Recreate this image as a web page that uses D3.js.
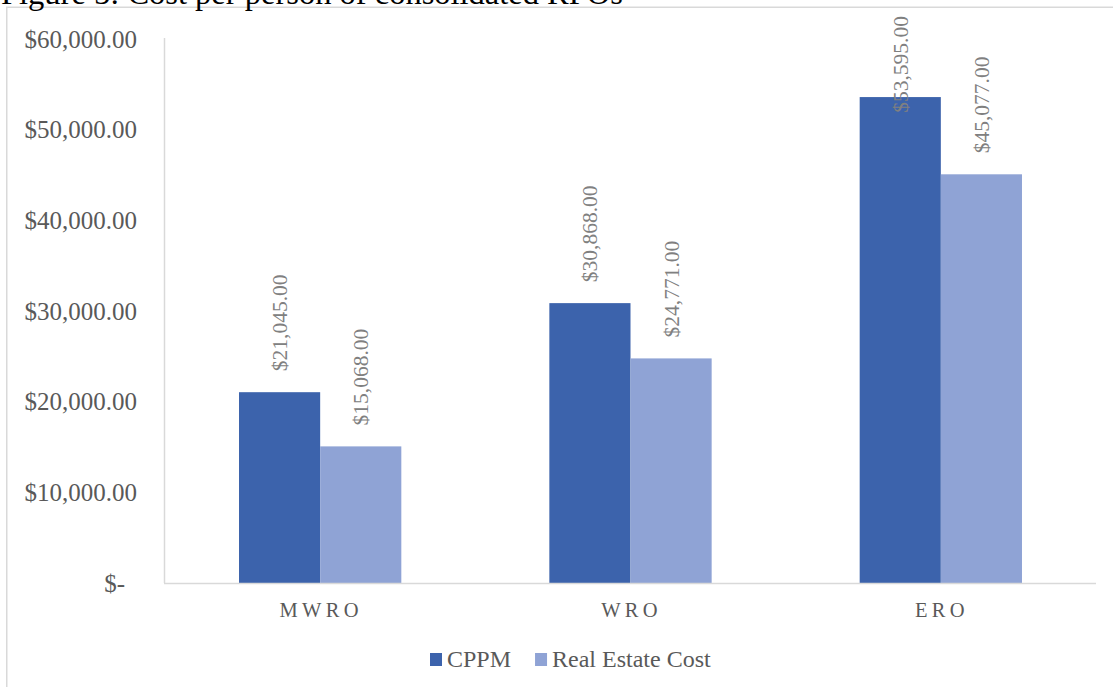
<!DOCTYPE html>
<html>
<head>
<meta charset="utf-8">
<script src="https://cdn.jsdelivr.net/npm/d3@7"></script>
<style>
  html, body { margin: 0; padding: 0; background: #fff; }
  svg { display: block; font-family: "Liberation Serif", "Times New Roman", Times, serif; }
</style>
</head>
<body>
<svg id="chart" width="1113" height="687"></svg>
<script>
// Cost per person, by regional office
const categories = ["MWRO", "WRO", "ERO"];
const seriesNames = ["CPPM", "Real Estate Cost"];
const cppm = [21045, 30868, 53595];
const realEstate = [15068, 24771, 45077];
const yTicks = [0, 10000, 20000, 30000, 40000, 50000, 60000];
const titleText = "Figure 5: Cost per person of consolidated RPOs";

const colors = ["#3c63ac", "#8fa3d5"];
const series = [cppm, realEstate];

const svg = d3.select("#chart");
const W = 1113, H = 687;
const plot = { left: 165, right: 1096, top: 39, bottom: 583 };

// chart frame
svg.append("path")
  .attr("d", `M6.75,${H} V7.25 H${W}`)
  .attr("fill", "none")
  .attr("stroke", "#d9d9d9")
  .attr("stroke-width", 1.5);

// title (runs above the frame)
const title = svg.append("text")
  .attr("x", 1)
  .attr("y", 4)
  .attr("font-size", 26)
  .attr("fill", "#000")
  .text(titleText);
const tl = title.node().getComputedTextLength();
title.attr("font-size", 26 * 622 / tl);

const y = d3.scaleLinear().domain([0, 60000]).range([plot.bottom, plot.top]);
const x0 = d3.scaleBand().domain(categories)
  .range([plot.left, plot.right])
  .paddingInner(0.477).paddingOuter(0.2385);
const x1 = d3.scaleBand().domain(seriesNames).range([0, x0.bandwidth()]);

// y axis labels
const fmt = v => v === 0 ? "$-" : "$" + d3.format(",.2f")(v);
const yAxis = svg.append("g")
  .attr("transform", `translate(${plot.left},0)`)
  .call(d3.axisLeft(y).tickValues(yTicks).tickFormat(fmt).tickSize(0).tickPadding(28));
yAxis.select(".domain").remove();
yAxis.selectAll("text")
  .attr("font-family", "'Liberation Serif', 'Times New Roman', serif")
  .attr("font-size", 25)
  .attr("fill", "#595959")
  .attr("dx", d => d === 0 ? -12 : 0);

// bars
const groups = svg.append("g").selectAll("g")
  .data(categories)
  .join("g")
  .attr("transform", d => `translate(${x0(d)},0)`);

groups.selectAll("rect")
  .data((c, i) => seriesNames.map((s, j) => ({ s, v: series[j][i], j })))
  .join("rect")
  .attr("x", d => x1(d.s))
  .attr("width", x1.bandwidth())
  .attr("y", d => y(d.v))
  .attr("height", d => y(0) - y(d.v))
  .attr("fill", d => colors[d.j]);

// value labels, rotated, kept inside the chart area
const labelTop = 16;
groups.selectAll("text.val")
  .data((c, i) => seriesNames.map((s, j) => ({ s, v: series[j][i], j })))
  .join("text")
  .attr("class", "val")
  .attr("font-size", 21.5)
  .attr("fill", "#808080")
  .attr("dy", "0.35em")
  .text(d => "$" + d3.format(",.2f")(d.v))
  .each(function (d) {
    const len = this.getComputedTextLength();
    const bottom = Math.max(y(d.v) - 21, labelTop + len);
    const cx = x1(d.s) + x1.bandwidth() / 2;
    d3.select(this).attr("transform", `translate(${cx},${bottom}) rotate(-90)`);
  });

// axis lines
svg.append("line")
  .attr("x1", plot.left - 0.5).attr("x2", plot.left - 0.5)
  .attr("y1", plot.top - 1).attr("y2", plot.bottom)
  .attr("stroke", "#d9d9d9").attr("stroke-width", 1.5);
svg.append("line")
  .attr("x1", plot.left - 1).attr("x2", plot.right)
  .attr("y1", plot.bottom + 0.5).attr("y2", plot.bottom + 0.5)
  .attr("stroke", "#d9d9d9").attr("stroke-width", 1.5);

// category labels
svg.append("g").selectAll("text")
  .data(categories)
  .join("text")
  .attr("x", d => x0(d) + x0.bandwidth() / 2 + 1)
  .attr("y", 617)
  .attr("text-anchor", "middle")
  .attr("font-size", 20.5)
  .attr("letter-spacing", 4.3)
  .attr("fill", "#595959")
  .text(d => d);

// legend
const legend = svg.append("g").attr("transform", "translate(430,0)");
let lx = 0;
seriesNames.forEach((name, j) => {
  legend.append("rect")
    .attr("x", lx).attr("y", 653)
    .attr("width", 12).attr("height", 13)
    .attr("fill", colors[j]);
  const t = legend.append("text")
    .attr("x", lx + 17).attr("y", 667)
    .attr("font-size", 24)
    .attr("fill", "#595959")
    .text(name);
  lx += 17 + t.node().getComputedTextLength() + 24;
});
</script>
</body>
</html>
